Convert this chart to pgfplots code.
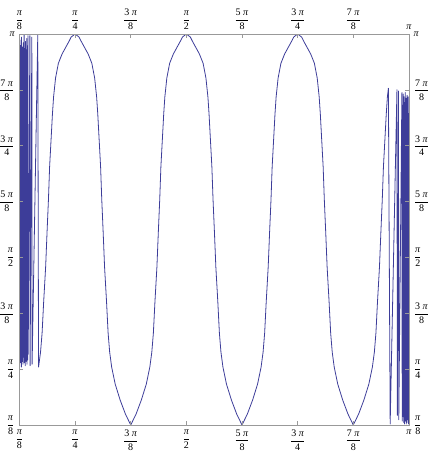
\documentclass[border=0pt]{standalone}
\usepackage{fontspec}
\setmainfont{Liberation Serif}
\usepackage{pgfplots}
\pgfplotsset{compat=1.18}
\usetikzlibrary{calc}
\definecolor{curve}{rgb}{0.24,0.24,0.6}
\definecolor{framegray}{gray}{0.6}
\newcommand{\ppi}{\textit{π}}
\newcommand{\pfrac}[2]{$\displaystyle\frac{\mbox{#1}}{\mbox{#2}}$}

\pgfplotsset{
  piframe/.style={
    width=292.1pt, height=293.25pt, scale only axis,
    xmin=0.392699, xmax=3.141593, ymin=0.392699, ymax=3.141593,
    xtick={0.392699,0.785398,1.178097,1.570796,1.963495,2.356194,2.748894,3.141593},
    ytick={0.392699,0.785398,1.178097,1.570796,1.963495,2.356194,2.748894,3.141593},
    xticklabels={\pfrac{\ppi}{8},\pfrac{\ppi}{4},\pfrac{3 \ppi}{8},\pfrac{\ppi}{2},\pfrac{5 \ppi}{8},\pfrac{3 \ppi}{4},\pfrac{7 \ppi}{8},\ppi},
    yticklabels={\pfrac{\ppi}{8},\pfrac{\ppi}{4},\pfrac{3 \ppi}{8},\pfrac{\ppi}{2},\pfrac{5 \ppi}{8},\pfrac{3 \ppi}{4},\pfrac{7 \ppi}{8},\ppi},
    tick align=inside, major tick length=3pt,
    tick style={framegray, line width=0.5pt},
    axis line style={framegray, line width=0.6pt},
    tick label style={font=\fontsize{7.5}{9}\selectfont, text=black},
    minor tick num=0,
  }
}

\begin{document}
\begin{tikzpicture}
\begin{axis}[piframe, name=ax, xticklabel pos=lower, yticklabel pos=left]
% curve values
\addplot[curve, line width=0.6pt, line join=round, mark=none] coordinates {
(0.3927,3.02) (0.3942,0.88) (0.3957,3.10) (0.3972,0.83) (0.3987,2.97) (0.4002,0.91)
(0.4017,3.06) (0.4032,0.85) (0.4047,2.99) (0.4062,0.80) (0.4077,3.12) (0.4092,0.89)
(0.4107,3.00) (0.4122,0.84) (0.4137,3.05) (0.4152,0.92) (0.4167,2.96) (0.4182,0.82)
(0.4197,3.08) (0.4212,0.87) (0.4227,3.01) (0.4242,0.90) (0.4257,3.14) (0.4272,0.83)
(0.4287,2.98) (0.4302,0.86) (0.4317,3.04) (0.4332,0.81) (0.4347,3.09) (0.4362,0.88)
(0.4377,2.97) (0.4392,0.84) (0.4407,3.03) (0.4422,0.90) (0.4437,3.11) (0.4452,0.82)
(0.4467,3.00) (0.4482,0.87) (0.4497,3.06) (0.4512,0.85) (0.4527,3.13) (0.4545,0.89)
(0.4660,3.13) (0.4680,0.81) (0.4800,3.12) (0.4820,0.82) (0.5220,3.14)
(0.5274,0.800) (0.5414,0.905) (0.5524,1.039) (0.5634,1.257) (0.5774,1.503) (0.5874,1.749)
(0.5974,1.981) (0.6054,2.207) (0.6194,2.467) (0.6254,2.579) (0.6334,2.699) (0.6474,2.832)
(0.6674,2.936) (0.6934,3.001) (0.7214,3.052) (0.7434,3.092) (0.7574,3.120) (0.7854,3.1416)
(0.8134,3.120) (0.8274,3.092) (0.8494,3.052) (0.8774,3.001) (0.9034,2.936) (0.9234,2.832)
(0.9374,2.699) (0.9454,2.579) (0.9514,2.467) (0.9654,2.207) (0.9734,1.981) (0.9834,1.749)
(0.9934,1.503) (1.0074,1.257) (1.0184,1.039) (1.0294,0.905) (1.0434,0.800) (1.0684,0.680)
(1.1034,0.568) (1.1404,0.470) (1.1781,0.3927)
(1.2158,0.470) (1.2528,0.568) (1.2878,0.680) (1.3128,0.800) (1.3268,0.905) (1.3378,1.039)
(1.3488,1.257) (1.3628,1.503) (1.3728,1.749) (1.3828,1.981) (1.3908,2.207) (1.4048,2.467)
(1.4108,2.579) (1.4188,2.699) (1.4328,2.832) (1.4528,2.936) (1.4788,3.001) (1.5068,3.052)
(1.5288,3.092) (1.5428,3.120) (1.5708,3.1416)
(1.5988,3.120) (1.6128,3.092) (1.6348,3.052) (1.6628,3.001) (1.6888,2.936) (1.7088,2.832)
(1.7228,2.699) (1.7308,2.579) (1.7368,2.467) (1.7508,2.207) (1.7588,1.981) (1.7688,1.749)
(1.7788,1.503) (1.7928,1.257) (1.8038,1.039) (1.8148,0.905) (1.8288,0.800) (1.8538,0.680)
(1.8888,0.568) (1.9258,0.470) (1.9635,0.3927)
(2.0012,0.470) (2.0382,0.568) (2.0732,0.680) (2.0982,0.800) (2.1122,0.905) (2.1232,1.039)
(2.1342,1.257) (2.1482,1.503) (2.1582,1.749) (2.1682,1.981) (2.1762,2.207) (2.1902,2.467)
(2.1962,2.579) (2.2042,2.699) (2.2182,2.832) (2.2382,2.936) (2.2642,3.001) (2.2922,3.052)
(2.3142,3.092) (2.3282,3.120) (2.3562,3.1416)
(2.3842,3.120) (2.3982,3.092) (2.4202,3.052) (2.4482,3.001) (2.4742,2.936) (2.4942,2.832)
(2.5082,2.699) (2.5162,2.579) (2.5222,2.467) (2.5362,2.207) (2.5442,1.981) (2.5542,1.749)
(2.5642,1.503) (2.5782,1.257) (2.5892,1.039) (2.6002,0.905) (2.6142,0.800) (2.6392,0.680)
(2.6742,0.568) (2.7112,0.470) (2.7489,0.3927)
(2.7866,0.470) (2.8236,0.568) (2.8586,0.680) (2.8836,0.800) (2.8976,0.905) (2.9086,1.039)
(2.9196,1.257) (2.9336,1.503) (2.9436,1.749) (2.9536,1.981) (2.9616,2.207) (2.9756,2.467)
(2.9816,2.579) (2.9896,2.699) (2.9966,2.76)
(3.0092,0.40) (3.0570,2.75) (3.0600,0.46) (3.0680,2.74) (3.0700,0.43) (3.0920,2.73) (3.0940,0.42)
(3.1010,2.72) (3.1024,0.45) (3.1038,2.55) (3.1052,0.41) (3.1066,2.70) (3.1080,0.48)
(3.1094,2.38) (3.1108,0.40) (3.1122,2.66) (3.1136,0.44) (3.1150,2.73) (3.1164,0.42)
(3.1178,2.45) (3.1192,0.47) (3.1206,2.69) (3.1220,0.40) (3.1234,2.58) (3.1248,0.45)
(3.1262,2.35) (3.1276,0.41) (3.1290,2.71) (3.1304,0.50) (3.1318,2.62) (3.1332,0.43)
(3.1346,2.48) (3.1360,0.46) (3.1374,2.70) (3.1388,0.40) (3.1402,2.40) (3.1416,0.52)
};
\end{axis}
\begin{axis}[piframe, xticklabel pos=upper, yticklabel pos=right]
\addplot[draw=none] coordinates {(1,1)};
\end{axis}
\pgfresetboundingbox
\path ($(ax.south west)+(-14.6pt,-24.75pt)$) rectangle ($(ax.north east)+(15pt,25.5pt)$);
\end{tikzpicture}
\end{document}
